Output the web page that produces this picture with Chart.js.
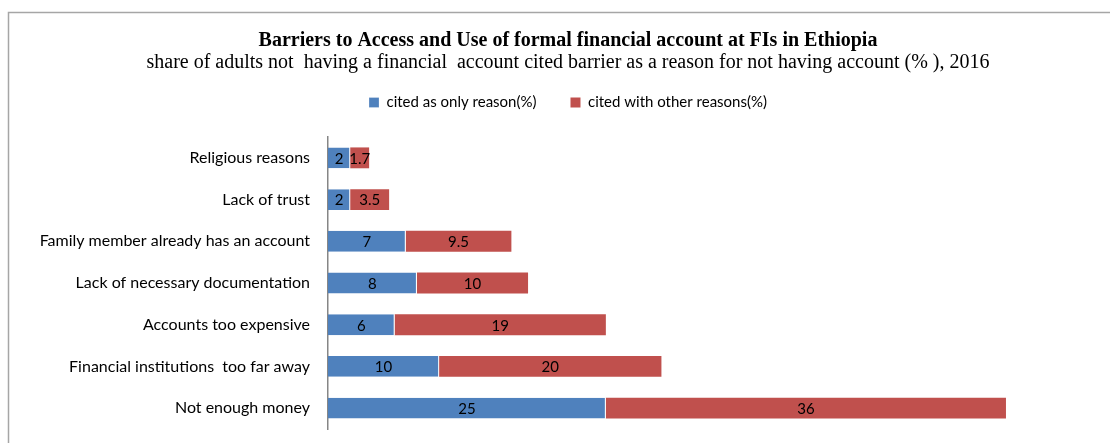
<!DOCTYPE html>
<html>
<head>
<meta charset="utf-8">
<script src="https://cdn.jsdelivr.net/npm/chart.js@4/dist/chart.umd.min.js"></script>
<style>
  html, body { margin: 0; padding: 0; background: #fff; }
  #wrap { width: 1110px; height: 443px; position: relative; }
</style>
</head>
<body>
<div id="wrap"><canvas id="barriers"></canvas></div>
<script>
const categories = [
    'Religious reasons',
    'Lack of trust',
    'Family member already has an account',
    'Lack of necessary documentation',
    'Accounts too expensive',
    'Financial institutions  too far away',
    'Not enough money'
];
const onlyReason = [2, 2, 7, 8, 6, 10, 25];
const withOtherReasons = [1.7, 3.5, 9.5, 10, 19, 20, 36];

const seriesNames = ['cited as only reason(%)', 'cited with other reasons(%)'];
const uiFont = 'Lato, "Open Sans", sans-serif';
const serifFont = '"Liberation Serif", "Times New Roman", serif';

// grey frame around the whole chart
const framePlugin = {
    id: 'frame',
    beforeDraw(chart) {
        const ctx = chart.ctx;
        ctx.save();
        ctx.strokeStyle = '#a6a6a6';
        ctx.lineWidth = 1.5;
        ctx.strokeRect(8.5, 12.5, chart.width + 20, chart.height + 20);
        ctx.restore();
    }
};

// leave some white space between the legend and the bars
const legendGap = {
    id: 'legendGap',
    afterInit(chart) {
        const legend = chart.legend;
        if (!legend) return;
        const fit = legend.fit;
        legend.fit = function () {
            fit.call(this);
            this.height += 17;
        };
    }
};

// value written in the middle of each bar segment
const valueLabels = {
    id: 'valueLabels',
    afterDatasetsDraw(chart) {
        const ctx = chart.ctx;
        ctx.save();
        ctx.font = '15px ' + uiFont;
        ctx.fillStyle = '#000';
        ctx.textAlign = 'center';
        ctx.textBaseline = 'middle';
        chart.data.datasets.forEach((ds, i) => {
            chart.getDatasetMeta(i).data.forEach((bar, j) => {
                const p = bar.getProps(['x', 'y', 'base'], true);
                ctx.fillText(String(ds.data[j]), (p.x + p.base) / 2, p.y + 1);
            });
        });
        ctx.restore();
    }
};

const ctx = document.getElementById('barriers').getContext('2d');
new Chart(ctx, {
    type: 'bar',
    data: {
        labels: categories,
        datasets: [{
            label: seriesNames[0],
            data: onlyReason,
            backgroundColor: '#4f81bd',
            borderColor: '#ffffff',
            borderWidth: { right: 1 },
            borderSkipped: false
        }, {
            label: seriesNames[1],
            data: withOtherReasons,
            backgroundColor: '#c0504d'
        }]
    },
    options: {
        indexAxis: 'y',
        responsive: true,
        maintainAspectRatio: false,
        animation: false,
        datasets: { bar: { barPercentage: 0.5, categoryPercentage: 1 } },
        layout: { padding: { top: 30, left: 30, right: 4, bottom: 14 } },
        scales: {
            x: {
                stacked: true,
                min: 0,
                max: 70,
                display: false
            },
            y: {
                stacked: true,
                grid: { display: false, drawTicks: true, tickLength: 18 },
                border: { color: '#868686', width: 1.5 },
                ticks: {
                    padding: 0,
                    color: '#000',
                    font: { family: uiFont, size: 16 }
                },
                afterFit(scale) { scale.width = 298; }
            }
        },
        plugins: {
            title: {
                display: true,
                text: 'Barriers to Access and Use of formal financial account at FIs in Ethiopia',
                color: '#000',
                font: { family: serifFont, size: 20, weight: 'bold', lineHeight: 1.1 },
                padding: { top: 0, bottom: 0 }
            },
            subtitle: {
                display: true,
                text: 'share of adults not  having a financial  account cited barrier as a reason for not having account (% ), 2016',
                color: '#000',
                font: { family: serifFont, size: 20, lineHeight: 1.1 },
                padding: { top: 0, bottom: -13 }
            },
            legend: {
                position: 'top',
                labels: {
                    boxWidth: 10,
                    boxHeight: 10,
                    padding: 34,
                    color: '#000',
                    font: { family: uiFont, size: 15, lineHeight: 1.2 }
                }
            },
            tooltip: { enabled: false }
        }
    },
    plugins: [framePlugin, legendGap, valueLabels]
});
</script>
</body>
</html>
